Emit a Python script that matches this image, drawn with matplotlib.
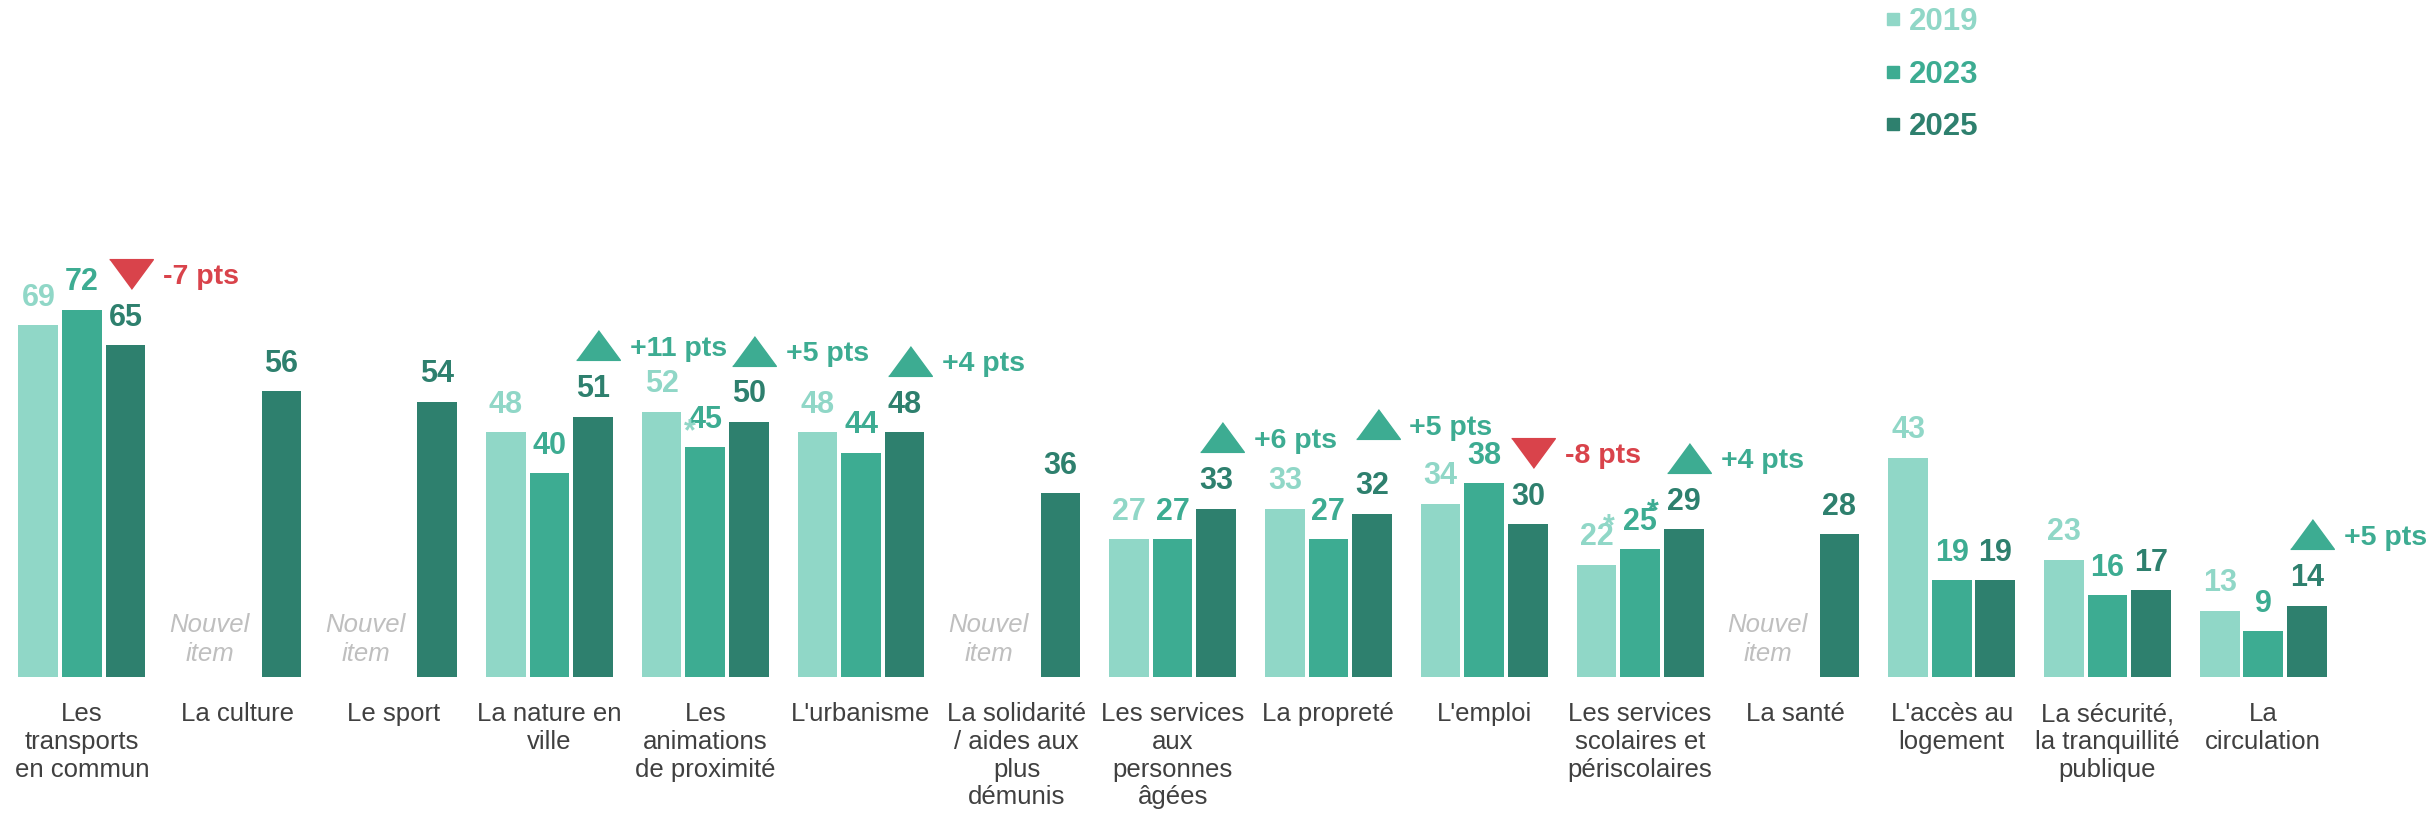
import matplotlib
matplotlib.use("Agg")
import matplotlib.pyplot as plt
import numpy as np
from matplotlib.lines import Line2D

plt.rcParams["font.family"] = ["Liberation Sans", "DejaVu Sans"]

categories = [
    "Les\ntransports\nen commun",
    "La culture",
    "Le sport",
    "La nature en\nville",
    "Les\nanimations\nde proximité",
    "L'urbanisme",
    "La solidarité\n/ aides aux\nplus\ndémunis",
    "Les services\naux\npersonnes\nâgées",
    "La propreté",
    "L'emploi",
    "Les services\nscolaires et\npériscolaires",
    "La santé",
    "L'accès au\nlogement",
    "La sécurité,\nla tranquillité\npublique",
    "La\ncirculation",
]
years = ["2019", "2023", "2025"]
v2019 = [69, None, None, 48, 52, 48, None, 27, 33, 34, 22, None, 43, 23, 13]
v2023 = [72, None, None, 40, 45, 44, None, 27, 27, 38, 25, None, 19, 16, 9]
v2025 = [65, 56, 54, 51, 50, 48, 36, 33, 32, 30, 29, 28, 19, 17, 14]
# significant evolutions 2023 -> 2025 shown with a triangle
deltas = [-7, None, None, 11, 5, 4, None, 6, 5, -8, 4, None, None, None, 5]
# labels carrying an asterisk: (category index, series index)
starred = [(10, 0), (10, 1)]

colors = ["#90D7C7", "#3DAC92", "#2E806E"]
red = "#D9434B"
up_col = "#3DAC92"

fig = plt.figure(figsize=(24.3, 8.17), dpi=100)
ax = fig.add_axes([0, 0.1713, 1, 0.8287])

x = np.arange(len(categories))
step, width = 0.28, 0.255
series = [v2019, v2023, v2025]

for k, vals in enumerate(series):
    xs = x + (k - 1) * step
    h = np.array([np.nan if v is None else v for v in vals], dtype=float)
    ax.bar(xs, np.nan_to_num(h), width, color=colors[k], linewidth=0)
    for i, v in enumerate(vals):
        if v is None:
            continue
        ax.annotate(str(v), (xs[i], v), xytext=(0, 14), textcoords="offset points",
                    ha="center", va="baseline", fontsize=22, fontweight="bold",
                    color=colors[k])

for i, k in starred:
    ax.annotate("*", (x[i] + (k - 1) * step, series[k][i]), xytext=(9, 21),
                textcoords="offset points", ha="center", va="baseline",
                fontsize=22, fontweight="bold", color=colors[k])
# stray asterisk next to "45"
ax.annotate("*", (x[4], v2023[4]), xytext=(-11, 5), textcoords="offset points",
            ha="center", va="baseline", fontsize=22, fontweight="bold",
            color=colors[0])

# new items
for i, v in enumerate(v2019):
    if v is None and v2023[i] is None:
        ax.text(x[i] - 0.18, 7.3, "Nouvel\nitem", ha="center", va="center",
                fontsize=18.5, style="italic", color="#BFBFBF", linespacing=1.25)

# evolution markers
tri_up = [(-1, -0.68), (1, -0.68), (0, 0.68)]
tri_dn = [(-1, 0.68), (1, 0.68), (0, -0.68)]
lift = {8: 3.5}  # keep "+5 pts" clear of the neighbouring "38"
for i, d in enumerate(deltas):
    if d is None:
        continue
    c = up_col if d > 0 else red
    ty = v2025[i] + 14 + lift.get(i, 0)
    tx = x[i] + step + 0.035
    ax.plot(tx, ty, marker=tri_up if d > 0 else tri_dn, markersize=31.5,
            color=c, linestyle="none")
    ax.annotate(f"{d:+d} pts", (tx, ty), xytext=(23, -7.5), textcoords="offset points",
                ha="left", va="baseline", fontsize=20.5, fontweight="bold", color=c)

ax.set_xlim(-0.526, 15.07)
ax.set_ylim(0, 132.7)
ax.set_xticks(x)
ax.set_xticklabels(categories, fontsize=18.5, color="#404040", linespacing=1.2)
ax.tick_params(axis="x", length=0, pad=18)
ax.tick_params(axis="y", left=False, labelleft=False)
for s in ax.spines.values():
    s.set_visible(False)

handles = [Line2D([], [], marker="s", linestyle="none", color=c, markersize=8.6)
           for c in colors]
leg = ax.legend(handles, years, loc="upper left", bbox_to_anchor=(0.7699, 1.0104),
                bbox_transform=fig.transFigure, frameon=False, borderpad=0,
                handlelength=0.4, handletextpad=0.33, labelspacing=0.72,
                prop={"size": 22.5, "weight": "bold"}, labelcolor=colors)

fig.savefig("out.png", dpi=100)
